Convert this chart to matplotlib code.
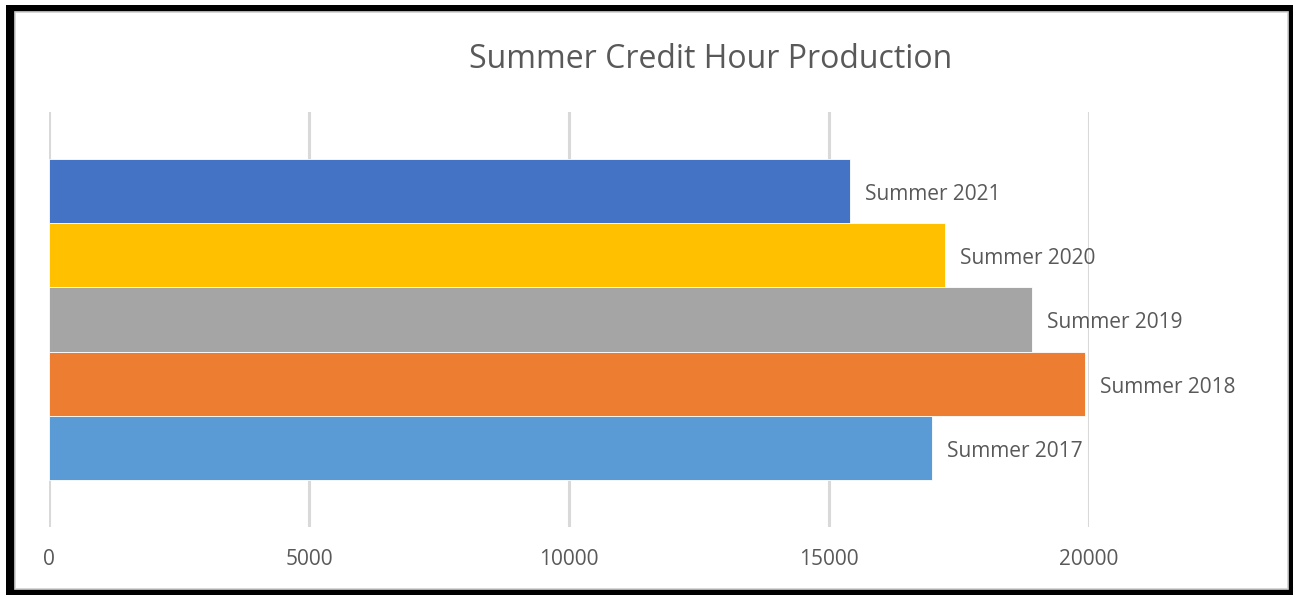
import matplotlib.pyplot as plt
from matplotlib.patches import Rectangle

# data (bottom to top)
terms = ["Summer 2017", "Summer 2018", "Summer 2019", "Summer 2020", "Summer 2021"]
credit_hours = [16990, 19930, 18910, 17240, 15410]
bar_colors = ["#5B9BD5", "#ED7D31", "#A5A5A5", "#FFC000", "#4472C4"]
x_ticks = [0, 5000, 10000, 15000, 20000]

W, H = 1293, 595
fig = plt.figure(figsize=(W / 100, H / 100), dpi=100)
plt.rcParams['font.family'] = ['Open Sans', 'DejaVu Sans']

# black frame around the chart (kept behind the axes)
fig.patches.append(Rectangle((6 / W, 0), (W - 6) / W, (H - 5) / H,
                             transform=fig.transFigure, facecolor="black",
                             edgecolor="none", zorder=-3))
fig.patches.append(Rectangle((15 / W, 6 / H), (1288 - 15) / W, (589 - 12) / H,
                             transform=fig.transFigure, facecolor="white",
                             edgecolor="#d0d0d0", linewidth=1.2, zorder=-2))

ax = fig.add_axes([49 / W, 68 / H, (1089 - 49) / W, (527 - 112) / H])
ax.set_facecolor("none")

pos = list(range(len(terms)))
ax.barh(pos, credit_hours, height=1.0, color=bar_colors,
        edgecolor="white", linewidth=0.6, zorder=3)

for p, v, t in zip(pos, credit_hours, terms):
    ax.annotate(t, (v, p), xytext=(10.5, -2.5), textcoords="offset points",
                va="center", ha="left", fontsize=15, color="#595959",
                annotation_clip=False)

pad = 47 / 64
ax.set_ylim(-0.5 - pad, len(terms) - 0.5 + pad)
ax.set_xlim(0, 20000)
ax.set_xticks(x_ticks)
ax.set_xticklabels([str(t) for t in x_ticks])
ax.set_yticks([])
ax.tick_params(axis="x", length=0, pad=15.5, labelsize=15, labelcolor="#595959")
ax.grid(axis="x", color="#d9d9d9", linewidth=2.2, zorder=0)
for s in ax.spines.values():
    s.set_visible(False)

fig.text(711 / W, 1 - 59 / H, "Summer Credit Hour Production",
         ha="center", va="center", fontsize=23, color="#595959")

fig.savefig("out.png", dpi=100)
